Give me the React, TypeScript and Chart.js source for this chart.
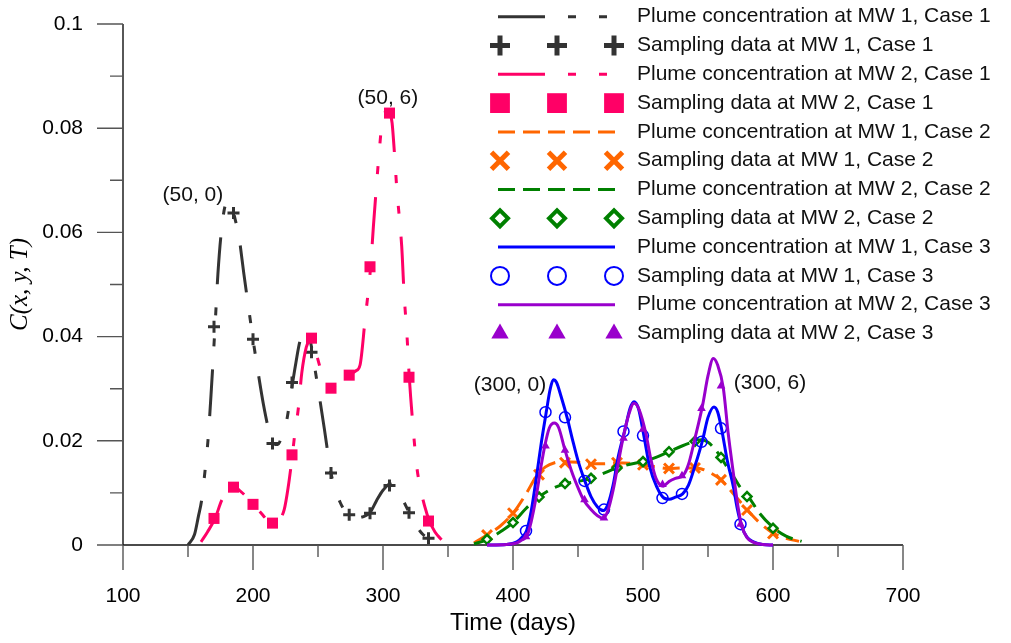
import React, { useEffect, useRef } from 'react';
import { Chart, registerables } from 'chart.js';
import { drawPoint } from 'chart.js/helpers';

Chart.register(...registerables);

// ---------- axis ticks ----------
const xTickValues = [100, 200, 300, 400, 500, 600, 700];
const xMinorTickValues = [150, 250, 350, 450, 550, 650];
const yTickValues = [0, 0.02, 0.04, 0.06, 0.08, 0.1];
const yMinorTickValues = [0.01, 0.03, 0.05, 0.07, 0.09];

// ---------- Case 1 plume curves ----------
const mw1Case1CurveDays = [150, 155, 158, 160.5, 163, 165.5, 168, 170.8, 173, 176, 179, 181, 184, 186, 189, 193, 196.5, 200, 204, 208, 212, 215.6, 219, 223, 226, 228.5, 230.5, 233, 236, 240, 243, 245.6, 248, 251.5, 255, 260, 263, 267, 270, 273.3, 278, 283, 287, 290, 295, 300, 305.4, 310, 315, 320.2, 325, 330, 335.7, 340];
const mw1Case1CurveConc = [0, 0.002, 0.0055, 0.0086, 0.014, 0.0205, 0.03, 0.042, 0.052, 0.061, 0.0655, 0.066, 0.065, 0.0628, 0.0595, 0.052, 0.0457, 0.0395, 0.033, 0.027, 0.0222, 0.0195, 0.0193, 0.0215, 0.024, 0.028, 0.0312, 0.035, 0.039, 0.041, 0.0402, 0.0372, 0.0333, 0.0278, 0.0221, 0.0138, 0.011, 0.0082, 0.0068, 0.0058, 0.0052, 0.0053, 0.0057, 0.0062, 0.0085, 0.0105, 0.0117, 0.011, 0.0088, 0.0062, 0.004, 0.0022, 0.0011, 0.0002];
const mw2Case1CurveDays = [160, 165, 170.8, 176, 181, 185.6, 190, 194, 200.3, 206, 211, 215.6, 219, 224, 227, 230.3, 232, 235, 237.5, 241, 244, 246, 249, 252, 256, 260.5, 266.9, 273.3, 279, 282.3, 286.2, 290.5, 292.6, 295, 297, 299, 302, 304, 305.4, 307, 309, 310.5, 312.5, 314.4, 316.2, 318.5, 320.2, 323.3, 326, 328.5, 332, 335.7, 340, 345];
const mw2Case1CurveConc = [0.0006, 0.0025, 0.0051, 0.0086, 0.0105, 0.0111, 0.0104, 0.0095, 0.0078, 0.0062, 0.0048, 0.0042, 0.0045, 0.0068, 0.011, 0.0173, 0.021, 0.0265, 0.033, 0.038, 0.0395, 0.0397, 0.0365, 0.0338, 0.0312, 0.0301, 0.0317, 0.0326, 0.0334, 0.0345, 0.0432, 0.0534, 0.0611, 0.069, 0.0752, 0.0805, 0.0832, 0.0834, 0.0829, 0.081, 0.0745, 0.0688, 0.063, 0.0573, 0.0483, 0.04, 0.0323, 0.0221, 0.015, 0.0112, 0.0075, 0.0046, 0.0025, 0.001];

// ---------- Case 1 sampling ----------
const case1SampleDays = [170, 185, 200, 215, 230, 245, 260, 274, 290, 305, 320, 335];
const mw1Case1Samples = [0.0419, 0.0637, 0.0395, 0.0195, 0.0312, 0.037, 0.0138, 0.0058, 0.0061, 0.0114, 0.0062, 0.0013];
const mw2Case1Samples = [0.0051, 0.0111, 0.0078, 0.0042, 0.0173, 0.0397, 0.0301, 0.0326, 0.0534, 0.0829, 0.0322, 0.0046];

// ---------- Case 2 ----------
const mw1Case2CurveDays = [370, 380, 390, 400, 410, 418, 425, 432, 440, 450, 460, 470, 480, 490, 500, 510, 520, 530, 540, 545, 550, 560, 570, 580, 590, 600, 610, 620];
const mw1Case2CurveConc = [0.0004, 0.0019, 0.0036, 0.0061, 0.0098, 0.0132, 0.015, 0.0158, 0.016, 0.0159, 0.0156, 0.0156, 0.0158, 0.0157, 0.0154, 0.015, 0.0147, 0.0148, 0.0148, 0.0146, 0.0141, 0.0125, 0.0097, 0.0068, 0.0042, 0.0023, 0.0013, 0.0007];
const mw2Case2CurveDays = [370, 381, 390, 400, 410, 420, 430, 441, 450, 460, 470, 480, 490, 500, 510, 520, 530, 540, 545, 550, 555, 560, 565, 570, 575, 581, 590, 600, 610, 622];
const mw2Case2CurveConc = [0.0002, 0.0011, 0.0025, 0.0043, 0.007, 0.0092, 0.0108, 0.0118, 0.0122, 0.0128, 0.0138, 0.0148, 0.0155, 0.016, 0.0168, 0.0179, 0.019, 0.0199, 0.0202, 0.0197, 0.0185, 0.0168, 0.0148, 0.013, 0.011, 0.0093, 0.006, 0.0034, 0.0017, 0.0007];
const case2SampleDays = [380, 400, 420, 440, 460, 480, 500, 520, 540, 560, 580, 600];
const mw1Case2Samples = [0.0019, 0.0061, 0.0135, 0.0158, 0.0155, 0.0158, 0.0154, 0.0147, 0.0148, 0.0125, 0.0067, 0.0022];
const mw2Case2Samples = [0.0011, 0.0043, 0.0092, 0.0118, 0.0128, 0.0148, 0.016, 0.0179, 0.0199, 0.0168, 0.0093, 0.0032];

// ---------- Case 3 ----------
const mw1Case3CurveDays = [380, 395, 403, 407, 410.5, 414, 418, 422, 425.9, 428.5, 431, 433.5, 437, 441.8, 446, 450, 455.4, 460, 465, 469.5, 473, 477, 481, 486.2, 490, 493.1, 496.5, 500.8, 505, 510.5, 516.2, 520, 525, 530.5, 535, 540, 545.9, 550, 554.6, 557.5, 560.5, 565, 569.5, 572.5, 575.9, 580, 585, 592, 600];
const mw1Case3CurveConc = [0, 0.0001, 0.0006, 0.0015, 0.0028, 0.0065, 0.013, 0.02, 0.026, 0.0298, 0.0317, 0.0312, 0.0285, 0.0243, 0.02, 0.0162, 0.0122, 0.0093, 0.0073, 0.0066, 0.0078, 0.0115, 0.017, 0.0222, 0.0262, 0.0275, 0.0262, 0.0208, 0.0152, 0.0112, 0.009, 0.0088, 0.0092, 0.0098, 0.0115, 0.0152, 0.0202, 0.0245, 0.0265, 0.0255, 0.0222, 0.016, 0.0112, 0.007, 0.0036, 0.0015, 0.0006, 0.0001, 0];
const mw2Case3CurveDays = [380, 395, 403, 407, 410.5, 414, 418, 421.5, 424.6, 428, 431.8, 435, 440, 445, 450, 454, 460, 465, 469.5, 473, 477, 481, 484.8, 489, 493.1, 497, 502.3, 506, 510, 515.6, 520, 525, 531, 535, 540, 545.9, 550, 554.1, 557.5, 561.8, 565.5, 569.5, 573, 575.9, 580, 585, 592, 600];
const mw2Case3CurveConc = [0, 0.0001, 0.0004, 0.001, 0.0016, 0.0045, 0.0095, 0.015, 0.0192, 0.0225, 0.0234, 0.0226, 0.0182, 0.0142, 0.011, 0.0088, 0.0068, 0.0056, 0.0051, 0.0066, 0.0105, 0.0158, 0.0207, 0.025, 0.0272, 0.026, 0.0213, 0.0165, 0.0128, 0.0113, 0.0122, 0.0128, 0.0134, 0.0155, 0.0205, 0.0269, 0.0325, 0.0358, 0.0345, 0.0301, 0.0215, 0.0138, 0.0075, 0.0037, 0.0014, 0.0005, 0.0001, 0];
const case3SampleDays = [410, 425, 440, 455, 470, 485, 500, 515, 530, 545, 560, 575];
const mw1Case3Samples = [0.0027, 0.0255, 0.0245, 0.0123, 0.0068, 0.0218, 0.021, 0.009, 0.0098, 0.0198, 0.0224, 0.004];
const mw2Case3Samples = [0.0016, 0.019, 0.0182, 0.0087, 0.0052, 0.0205, 0.0222, 0.0116, 0.0133, 0.0262, 0.0305, 0.004];

// ---------- peak annotations ----------
const annotationLabels = ['(50, 0)', '(50, 6)', '(300, 0)', '(300, 6)'];
const annotationDays = [153.8, 303.8, 397.7, 597.7];
const annotationConc = [0.0672, 0.0858, 0.0307, 0.0311];

const seriesLabels = [
  'Plume concentration at MW 1, Case 1',
  'Sampling data at MW 1, Case 1',
  'Plume concentration at MW 2, Case 1',
  'Sampling data at MW 2, Case 1',
  'Plume concentration at MW 1, Case 2',
  'Sampling data at MW 1, Case 2',
  'Plume concentration at MW 2, Case 2',
  'Sampling data at MW 2, Case 2',
  'Plume concentration at MW 1, Case 3',
  'Sampling data at MW 1, Case 3',
  'Plume concentration at MW 2, Case 3',
  'Sampling data at MW 2, Case 3',
];

const BLACK = '#333333';
const PINK = '#FF0066';
const ORANGE = '#FF6600';
const GREEN = '#008000';
const BLUE = '#0000FF';
const PURPLE = '#9900CC';
const DASH_DOT_DOT = [47, 23, 8, 23, 8, 23];
const DASHED = [17, 8];
const FONT = '"Liberation Sans", Arial, sans-serif';

const pts = (xs: number[], ys: number[]) => xs.map((x, i) => ({ x, y: ys[i] }));

function lineSet(label: string, xs: number[], ys: number[], color: string, dash: number[]) {
  return {
    label,
    data: pts(xs, ys),
    showLine: true,
    borderColor: color,
    backgroundColor: color,
    borderWidth: 3,
    borderDash: dash,
    pointRadius: 0,
    cubicInterpolationMode: 'monotone',
    clip: false,
  };
}

function pointSet(label: string, xs: number[], ys: number[], style: string, radius: number, fill: string, border: string, bw: number) {
  return {
    label,
    data: pts(xs, ys),
    showLine: false,
    pointStyle: style,
    pointRadius: radius,
    pointBackgroundColor: fill,
    pointBorderColor: border,
    pointBorderWidth: bw,
    backgroundColor: fill,
    borderColor: border,
    clip: false,
  };
}

// legend marker appearance (bigger than plot markers)
const legendMarkers: any[] = [
  null,
  { style: 'cross', radius: 10, fill: BLACK, stroke: BLACK, bw: 5 },
  null,
  { style: 'rect', radius: 14, fill: PINK, stroke: PINK, bw: 0 },
  null,
  { style: 'crossRot', radius: 12, fill: ORANGE, stroke: ORANGE, bw: 5 },
  null,
  { style: 'rectRot', radius: 8, fill: '#ffffff', stroke: GREEN, bw: 4 },
  null,
  { style: 'circle', radius: 9, fill: 'rgba(0,0,0,0)', stroke: BLUE, bw: 2 },
  null,
  { style: 'triangle', radius: 10, fill: PURPLE, stroke: PURPLE, bw: 0 },
];

const axesPlugin = {
  id: 'customAxes',
  beforeDatasetsDraw(chart: any) {
    const { ctx } = chart;
    const xs = chart.scales.x;
    const ys = chart.scales.y;
    const x0 = xs.getPixelForValue(xTickValues[0]);
    const x1 = xs.getPixelForValue(xTickValues[xTickValues.length - 1]);
    const y0 = ys.getPixelForValue(yTickValues[0]);
    const y1 = ys.getPixelForValue(yTickValues[yTickValues.length - 1]);
    ctx.save();
    ctx.lineWidth = 1.4;
    ctx.strokeStyle = '#111';
    ctx.beginPath();
    ctx.moveTo(x0, y1);
    ctx.lineTo(x0, y0);
    ctx.moveTo(x0, y0);
    ctx.lineTo(x1, y0);
    ctx.stroke();
    ctx.strokeStyle = '#555';
    ctx.beginPath();
    xTickValues.forEach((v) => { const p = xs.getPixelForValue(v); ctx.moveTo(p, y0); ctx.lineTo(p, y0 + 25); });
    xMinorTickValues.forEach((v) => { const p = xs.getPixelForValue(v); ctx.moveTo(p, y0); ctx.lineTo(p, y0 + 12); });
    yTickValues.forEach((v) => { const p = ys.getPixelForValue(v); ctx.moveTo(x0, p); ctx.lineTo(x0 - 26, p); });
    yMinorTickValues.forEach((v) => { const p = ys.getPixelForValue(v); ctx.moveTo(x0, p); ctx.lineTo(x0 - 13, p); });
    ctx.stroke();
    ctx.restore();
  },
};

const annotationPlugin = {
  id: 'peakLabels',
  afterDatasetsDraw(chart: any) {
    const { ctx } = chart;
    ctx.save();
    ctx.font = `21px ${FONT}`;
    ctx.fillStyle = '#111';
    ctx.textAlign = 'center';
    ctx.textBaseline = 'middle';
    annotationLabels.forEach((t, i) => {
      ctx.fillText(t, chart.scales.x.getPixelForValue(annotationDays[i]), chart.scales.y.getPixelForValue(annotationConc[i]));
    });
    ctx.restore();
  },
};

const legendPlugin = {
  id: 'sampleLegend',
  afterDraw(chart: any) {
    const { ctx } = chart;
    const rowTop = 16.7;
    const rowGap = 28.8;
    const lineStart = 498;
    const lineEnd = 615;
    const markerXs = [500, 557, 614];
    const textX = 637;
    ctx.save();
    chart.data.datasets.forEach((ds: any, i: number) => {
      const yc = rowTop + i * rowGap;
      if (ds.showLine) {
        ctx.save();
        ctx.strokeStyle = ds.borderColor;
        ctx.lineWidth = ds.borderWidth;
        ctx.setLineDash(ds.borderDash || []);
        ctx.beginPath();
        ctx.moveTo(lineStart, yc);
        ctx.lineTo(lineEnd, yc);
        ctx.stroke();
        ctx.restore();
      } else {
        const m = legendMarkers[i];
        markerXs.forEach((mx) => {
          ctx.save();
          ctx.setLineDash([]);
          ctx.fillStyle = m.fill;
          ctx.strokeStyle = m.stroke;
          ctx.lineWidth = m.bw;
          drawPoint(ctx, { pointStyle: m.style, radius: m.radius, rotation: 0, borderWidth: m.bw }, mx, yc);
          ctx.restore();
        });
      }
      ctx.font = `21px ${FONT}`;
      ctx.fillStyle = '#111';
      ctx.textAlign = 'left';
      ctx.textBaseline = 'middle';
      ctx.fillText(ds.label, textX, yc);
    });
    ctx.restore();
  },
};

export default function App() {
  const canvasRef = useRef<HTMLCanvasElement | null>(null);

  useEffect(() => {
    const canvas = canvasRef.current;
    if (!canvas) return;
    const datasets: any[] = [
      lineSet(seriesLabels[0], mw1Case1CurveDays, mw1Case1CurveConc, BLACK, DASH_DOT_DOT),
      pointSet(seriesLabels[1], case1SampleDays, mw1Case1Samples, 'cross', 6, BLACK, BLACK, 3),
      lineSet(seriesLabels[2], mw2Case1CurveDays, mw2Case1CurveConc, PINK, DASH_DOT_DOT),
      pointSet(seriesLabels[3], case1SampleDays, mw2Case1Samples, 'rect', 7.8, PINK, PINK, 0),
      lineSet(seriesLabels[4], mw1Case2CurveDays, mw1Case2CurveConc, ORANGE, DASHED),
      pointSet(seriesLabels[5], case2SampleDays, mw1Case2Samples, 'crossRot', 7, ORANGE, ORANGE, 3),
      lineSet(seriesLabels[6], mw2Case2CurveDays, mw2Case2CurveConc, GREEN, DASHED),
      pointSet(seriesLabels[7], case2SampleDays, mw2Case2Samples, 'rectRot', 4.5, '#ffffff', GREEN, 2.5),
      lineSet(seriesLabels[8], mw1Case3CurveDays, mw1Case3CurveConc, BLUE, []),
      pointSet(seriesLabels[9], case3SampleDays, mw1Case3Samples, 'circle', 5.5, 'rgba(0,0,0,0)', BLUE, 1.5),
      lineSet(seriesLabels[10], mw2Case3CurveDays, mw2Case3CurveConc, PURPLE, []),
      pointSet(seriesLabels[11], case3SampleDays, mw2Case3Samples, 'triangle', 5, PURPLE, PURPLE, 0),
    ];
    datasets.forEach((d, i) => { d.order = 100 - i; });

    Chart.defaults.color = '#000';
    const chart = new Chart(canvas, {
      type: 'scatter',
      data: { datasets },
      options: {
        responsive: false,
        animation: false,
        devicePixelRatio: 1,
        events: [],
        layout: { padding: { left: 0, top: 24, right: 108, bottom: 0 } },
        plugins: { legend: { display: false }, tooltip: { enabled: false } },
        scales: {
          x: {
            type: 'linear',
            min: xTickValues[0],
            max: xTickValues[xTickValues.length - 1],
            grid: { display: false, drawTicks: true, tickLength: 39 },
            border: { display: false },
            afterBuildTicks: (s: any) => { s.ticks = xTickValues.map((v) => ({ value: v })); },
            ticks: {
              padding: 0,
              maxRotation: 0,
              autoSkip: false,
              color: '#000',
              font: { family: FONT, size: 21 },
              callback: (v: any) => String(v),
            },
            title: {
              display: true,
              text: 'Time (days)',
              color: '#000',
              font: { family: FONT, size: 24 },
              padding: { top: 0, bottom: 5.6 },
            },
            afterFit: (s: any) => { s.height = 98; },
          },
          y: {
            type: 'linear',
            min: yTickValues[0],
            max: yTickValues[yTickValues.length - 1],
            grid: { display: false, drawTicks: true, tickLength: 40 },
            border: { display: false },
            afterBuildTicks: (s: any) => { s.ticks = yTickValues.map((v) => ({ value: v })); },
            ticks: {
              padding: 0,
              autoSkip: false,
              color: '#000',
              font: { family: FONT, size: 21 },
              callback: (v: any) => String(v),
            },
            title: {
              display: true,
              text: 'C(x, y, T)',
              color: '#000',
              font: { family: '"Liberation Serif", "Times New Roman", serif', size: 25, style: 'italic' },
              padding: { top: 5, bottom: 0 },
            },
            afterFit: (s: any) => {
              s.width = 123;
              s.paddingTop = Math.min(s.paddingTop, 14);
              s.paddingBottom = Math.min(s.paddingBottom, 14);
            },
          },
        },
      } as any,
      plugins: [axesPlugin, annotationPlugin, legendPlugin],
    });
    return () => chart.destroy();
  }, []);

  return (
    <div style={{ position: 'absolute', left: 0, top: 0, width: 1011, height: 643, background: '#fff' }}>
      <canvas ref={canvasRef} width={1011} height={643} style={{ display: 'block' }} />
    </div>
  );
}
